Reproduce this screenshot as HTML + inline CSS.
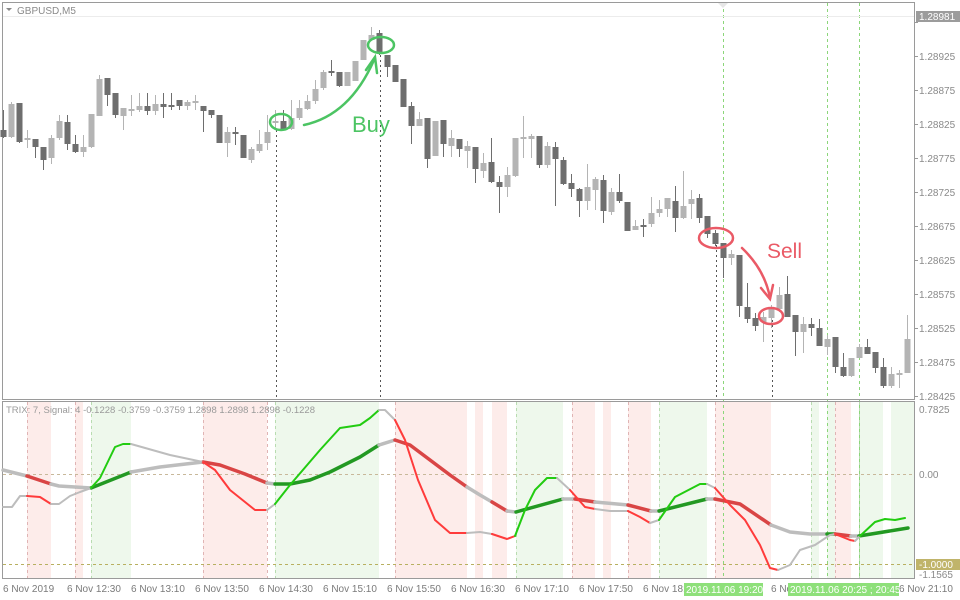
<!DOCTYPE html>
<html><head><meta charset="utf-8"><style>
html,body{margin:0;padding:0;background:#fff;}
svg{display:block;font-family:"Liberation Sans",sans-serif;}
</style></head><body>
<svg id="s" width="960" height="600" viewBox="0 0 960 600" xmlns="http://www.w3.org/2000/svg">
<rect width="960" height="600" fill="#fff"/>
<g id="bands"></g>
<g id="vlines"></g>
<rect x="2.5" y="2.5" width="912" height="397" fill="none" stroke="#9a9a9a"/>
<rect x="2.5" y="401.5" width="912" height="177" fill="none" stroke="#9a9a9a"/>
<line x1="3" y1="16.5" x2="914" y2="16.5" stroke="#ececec"/>
<path d="M6 8 L12 8 L9 11 Z" fill="#888"/>
<text x="17" y="14" font-size="10" fill="#8a8a8a">GBPUSD,M5</text>
<path d="M718 3 L728 3 L723 8 Z" fill="#e6e6e6"/>
<g id="candles"></g>
<g id="axis" font-size="10" fill="#8a8a8a"></g>
<line x1="3" y1="474.5" x2="914" y2="474.5" stroke="#c8b89a" stroke-dasharray="3,3"/>
<line x1="3" y1="564.5" x2="914" y2="564.5" stroke="#b8b060" stroke-dasharray="3,3"/>
<g id="ind" fill="none" stroke-linejoin="round" stroke-linecap="round"></g>
<text x="6" y="413" font-size="9.5" fill="#9a9a9a">TRIX: 7, Signal: 4 -0.1228 -0.3759 -0.3759 1.2898 1.2898 1.2898 -0.1228</text>
<g font-size="10" fill="#8a8a8a">
<text x="919" y="413">0.7825</text>
<text x="919" y="478">0.00</text>
<rect x="916" y="559" width="44" height="11" fill="#c0b46a"/>
<text x="919" y="568" fill="#fff">-1.0000</text>
<text x="919" y="578">-1.1565</text>
<rect x="916" y="11" width="44" height="11" fill="#9c9c9c"/>
<text x="919" y="20" fill="#fff">1.28981</text>
</g>
<g font-size="10" fill="#7a7a7a">
<text x="3" y="592">6 Nov 2019</text>
<text x="67" y="592">6 Nov 12:30</text>
<text x="131" y="592">6 Nov 13:10</text>
<text x="195" y="592">6 Nov 13:50</text>
<text x="259" y="592">6 Nov 14:30</text>
<text x="323" y="592">6 Nov 15:10</text>
<text x="387" y="592">6 Nov 15:50</text>
<text x="451" y="592">6 Nov 16:30</text>
<text x="515" y="592">6 Nov 17:10</text>
<text x="579" y="592">6 Nov 17:50</text>
<text x="643" y="592">6 Nov 18:</text>
<text x="771" y="592">6 No</text>
<text x="899" y="592">6 Nov 21:10</text>
<rect x="684" y="583" width="79" height="13" fill="#8ee07a"/>
<text x="686" y="593" fill="#fff">2019.11.06 19:20</text>
<rect x="788" y="583" width="111" height="13" fill="#8ee07a"/>
<text x="790" y="593" fill="#fff">2019.11.06 20:25 ; 20:45</text>
</g>
<g fill="none" stroke-linecap="round">
<ellipse cx="281" cy="122" rx="11" ry="8" stroke="#4cc463" stroke-width="2.5"/>
<ellipse cx="381" cy="45" rx="13" ry="8" stroke="#4cc463" stroke-width="2.5"/>
<path d="M304 125 Q350 115 374 60" stroke="#4cc463" stroke-width="2.5"/>
<path d="M366 70 L375 57 L377 73" stroke="#4cc463" stroke-width="2.5"/>
<ellipse cx="716" cy="238" rx="17" ry="10" stroke="#ea5a66" stroke-width="2.5"/>
<ellipse cx="771" cy="316" rx="12" ry="8" stroke="#ea5a66" stroke-width="2.5"/>
<path d="M742 248 Q765 270 770 298" stroke="#ea5a66" stroke-width="2.5"/>
<path d="M761 288 L770 299 L773 285" stroke="#ea5a66" stroke-width="2.5"/>
</g>
<text x="352" y="132" font-size="22" fill="#4cc463">Buy</text>
<text x="767" y="258" font-size="21" fill="#ea5a66">Sell</text>
</svg>
<script>
var NS="http://www.w3.org/2000/svg";
function el(p,t,a){var e=document.createElementNS(NS,t);for(var k in a)e.setAttribute(k,a[k]);document.getElementById(p).appendChild(e);return e;}
[[27,51],[75,83],[203,267],[395,467],[475,483],[492,507],[572,595],[603,611],[628,651],[715,771],[835,851]].forEach(function(b){el("bands","rect",{x:b[0],y:402,width:b[1]-b[0],height:176,fill:"#fdecea"});});
[[91,131],[275,379],[516,563],[659,707],[811,819],[827,835],[859,883],[891,914]].forEach(function(b){el("bands","rect",{x:b[0],y:402,width:b[1]-b[0],height:176,fill:"#eef8ec"});});
[27,75,203,267,395,572,628,715,835].forEach(function(x){el("vlines","line",{x1:x+.5,y1:402,x2:x+.5,y2:578,stroke:"#e0b4b4","stroke-dasharray":"3,3"});});
[91,275,516,659,811,859].forEach(function(x){el("vlines","line",{x1:x+.5,y1:402,x2:x+.5,y2:578,stroke:"#b8dcb0","stroke-dasharray":"3,3"});});
[723,827,859].forEach(function(x){el("vlines","line",{x1:x+.5,y1:3,x2:x+.5,y2:578,stroke:"#8cd67a","stroke-dasharray":"3,3"});});
[[276,130],[380,50],[716,245],[772,320]].forEach(function(v){el("vlines","line",{x1:v[0]+.5,y1:v[1],x2:v[0]+.5,y2:400,stroke:"#555","stroke-dasharray":"2,3"});});
var C=[[3,130,137,110,138,1],[11,104,137,102,138,0],[19,103,142,103,143,1],[27,138,140,130,148,0],[35,139,147,139,158,1],[43,147,160,147,170,1],[51,138,158,135,164,0],[59,121,138,115,140,0],[67,122,144,115,150,1],[75,144,152,135,153,1],[83,147,152,135,157,0],[91,114,147,114,148,0],[99,79,116,75,116,0],[107,78,95,78,106,1],[115,93,115,93,118,1],[123,108,116,108,130,0],[131,109,111,95,116,0],[139,106,110,93,112,0],[147,106,111,93,115,1],[155,104,111,95,115,0],[163,104,107,93,118,1],[171,105,107,93,110,1],[179,100,106,100,110,1],[187,102,106,100,110,0],[195,101,102,95,110,0],[203,106,111,106,132,1],[211,110,115,110,118,1],[219,115,143,115,143,1],[227,132,143,127,157,0],[235,132,134,127,145,1],[243,135,158,135,158,1],[251,149,160,147,163,0],[259,144,151,130,153,0],[267,132,143,115,150,0],[275,121,123,110,130,0],[283,121,129,110,130,1],[291,118,129,100,130,0],[299,108,118,100,120,0],[307,101,109,95,110,0],[315,89,101,80,104,0],[323,72,88,70,90,0],[331,71,72,60,76,1],[339,72,86,72,87,1],[347,72,86,72,86,0],[355,61,81,61,81,0],[363,40,60,40,60,0],[371,35,40,27,40,0],[379,33,52,30,55,1],[387,55,67,55,77,1],[395,65,82,65,82,1],[403,79,107,79,107,1],[411,106,126,102,144,1],[419,119,126,112,126,0],[427,118,159,118,168,1],[435,121,156,121,156,0],[443,120,144,120,157,1],[451,138,146,130,157,0],[459,139,149,139,157,1],[467,146,151,141,168,0],[475,147,169,147,183,1],[483,163,171,153,178,0],[491,162,182,138,183,1],[499,182,187,176,213,1],[507,175,187,167,197,0],[515,138,176,138,177,0],[523,137,139,116,158,0],[531,136,139,134,158,0],[539,136,165,136,168,1],[547,146,165,142,168,0],[555,147,159,142,206,1],[563,160,184,157,185,1],[571,183,189,174,197,1],[579,189,201,188,217,1],[587,187,201,164,210,0],[595,179,190,177,210,0],[603,180,211,175,223,1],[611,192,212,188,215,0],[619,192,201,174,203,1],[627,202,231,202,231,1],[635,226,230,220,230,0],[643,225,227,219,237,1],[651,213,224,197,227,0],[659,209,213,200,217,0],[667,198,209,198,217,0],[675,201,218,186,232,1],[683,206,218,171,219,0],[691,199,204,190,219,0],[699,198,218,194,223,1],[707,216,234,216,238,1],[715,233,244,230,246,1],[723,243,258,243,278,1],[731,254,258,250,265,0],[739,255,306,255,317,1],[747,307,319,283,323,1],[755,318,326,313,331,1],[763,317,322,312,342,0],[771,309,318,305,328,0],[779,295,309,287,312,0],[787,294,317,276,317,1],[795,315,332,315,356,1],[803,324,332,317,353,0],[811,324,328,318,336,1],[819,328,346,319,346,1],[827,339,347,335,355,0],[835,337,367,337,373,1],[843,367,376,353,377,1],[851,358,376,358,377,0],[859,347,358,344,358,0],[867,347,354,339,354,1],[875,352,368,352,373,1],[883,367,386,358,388,1],[891,374,386,367,388,0],[899,373,374,370,388,0],[907,339,373,315,373,0]];
C.forEach(function(c){var col=c[5]?"#6e6e6e":"#b4b4b4";
el("candles","line",{x1:c[0]+.5,y1:c[3],x2:c[0]+.5,y2:c[4],stroke:col});
el("candles","rect",{x:c[0]-2.5,y:c[1],width:6,height:Math.max(2,c[2]-c[1]),fill:col});});
var P=["1.28975","1.28925","1.28875","1.28825","1.28775","1.28725","1.28675","1.28625","1.28575","1.28525","1.28475","1.28425"];
P.forEach(function(p,i){var y=22+i*34;el("axis","line",{x1:914,y1:y+.5,x2:918,y2:y+.5,stroke:"#999"});if(i>0){var t=el("axis","text",{x:919,y:y+4});t.textContent=p;}});
function seg(pts,col,w){el("ind","polyline",{points:pts.map(function(p){return p.join(",")}).join(" "),stroke:col,"stroke-width":w});}
var G="#bdbdbd",R2="#ff3b3b",Gr2="#22cc11";
seg([[3,470],[27,476]],G,3.5);
seg([[27,476],[51,484]],"#d94545",3.5);
seg([[51,484],[59,486],[91,488]],G,3.5);
seg([[91,488],[131,472]],"#229922",3.5);
seg([[131,472],[160,467],[203,462]],G,3.5);
seg([[203,462],[220,465],[245,474],[267,483]],"#d94545",3.5);
seg([[267,483],[275,484]],G,3.5);
seg([[275,484],[290,484],[310,480],[330,472],[360,457],[379,445]],"#229922",3.5);
seg([[379,445],[395,440]],G,3.5);
seg([[395,440],[410,445],[430,460],[450,475],[467,487]],"#d94545",3.5);
seg([[467,487],[480,495],[492,502]],G,3.5);
seg([[492,502],[507,511]],"#d94545",3.5);
seg([[507,511],[516,512]],G,3.5);
seg([[516,512],[563,499]],"#229922",3.5);
seg([[563,499],[575,499]],G,3.5);
seg([[575,499],[595,502]],"#d94545",3.5);
seg([[595,502],[628,505]],G,3.5);
seg([[628,505],[651,511]],"#d94545",3.5);
seg([[651,511],[659,511]],G,3.5);
seg([[659,511],[707,499]],"#229922",3.5);
seg([[707,499],[715,499]],G,3.5);
seg([[715,499],[740,504],[771,525]],"#d94545",3.5);
seg([[771,525],[790,532],[810,534],[827,534]],G,3.5);
seg([[827,534],[835,534]],"#229922",3.5);
seg([[835,534],[851,536]],"#d94545",3.5);
seg([[851,536],[859,536]],G,3.5);
seg([[859,536],[908,528]],"#229922",3.5);
seg([[3,507],[12,507],[20,496],[27,496]],G,2);
seg([[27,496],[40,497],[51,504]],R2,2);
seg([[51,504],[59,504],[70,496],[80,492],[91,488]],G,2);
seg([[91,488],[100,478],[115,447],[123,444],[131,444]],Gr2,2);
seg([[131,444],[170,455],[203,462]],G,2);
seg([[203,462],[215,470],[230,490],[245,502],[255,510],[267,510]],R2,2);
seg([[267,510],[275,504]],G,2);
seg([[275,504],[290,485],[320,450],[340,428],[360,425],[370,418],[379,410]],Gr2,2);
seg([[379,410],[385,410],[395,420]],G,2);
seg([[395,420],[405,440],[418,480],[435,520],[450,533],[467,533]],R2,2);
seg([[467,533],[480,532],[492,534]],G,2);
seg([[492,534],[507,539],[515,536]],R2,2);
seg([[515,536],[525,510],[535,490],[547,478],[557,478]],Gr2,2);
seg([[557,478],[570,490]],G,2);
seg([[570,490],[585,507],[595,509]],R2,2);
seg([[595,509],[610,511],[628,511]],G,2);
seg([[628,511],[640,517],[650,523]],R2,2);
seg([[650,523],[659,520]],G,2);
seg([[659,520],[675,497],[700,484],[707,484]],Gr2,2);
seg([[707,484],[715,488]],G,2);
seg([[715,488],[730,505],[745,520],[760,545],[770,568],[778,570]],R2,2);
seg([[778,570],[790,565],[800,550],[815,545],[830,535],[835,534]],G,2);
seg([[835,534],[850,540],[855,541]],R2,2);
seg([[855,541],[860,536]],G,2);
seg([[860,536],[875,522],[885,519],[895,520],[905,518]],Gr2,2);
</script>
</body></html>
